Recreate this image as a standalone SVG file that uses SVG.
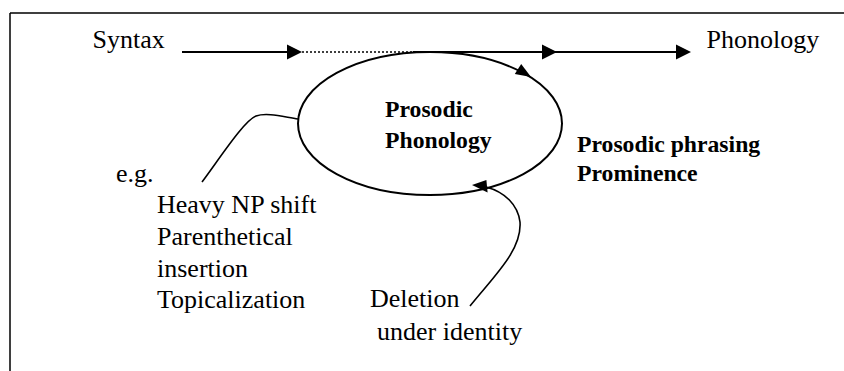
<svg xmlns="http://www.w3.org/2000/svg" width="844" height="371" viewBox="0 0 844 371">
<style>
text{font-family:'Liberation Serif','Times New Roman',serif;fill:#000}
.t{font-size:26px}
.b{font-size:23.7px;font-weight:bold}
.ln{fill:none;stroke:#000;stroke-width:2}
.cv{fill:none;stroke:#000;stroke-width:1.6}
.ah{fill:#000;stroke:none}
</style>
<rect width="844" height="371" fill="#fff"/>
<g id="frame">
<path d="M10 13 H844 M10 13 V371" fill="none" stroke="#000" stroke-width="1.5"/>
</g>
<g id="syntax"><text class="t" x="92.5" y="48">Syntax</text></g>
<g id="phonology"><text class="t" x="706.5" y="48">Phonology</text></g>
<g id="prosodic-phonology">
<ellipse cx="430" cy="123.5" rx="132" ry="71.5" class="ln" stroke-width="1.8"/>
<text class="b" x="385" y="117">Prosodic</text>
<text class="b" x="385" y="148">Phonology</text>
</g>
<g id="phrasing">
<text class="b" x="577" y="152">Prosodic phrasing</text>
<text class="b" x="577" y="181">Prominence</text>
</g>
<g id="examples">
<text class="t" x="116" y="182">e.g.</text>
<text class="t" x="157" y="213">Heavy NP shift</text>
<text class="t" x="157" y="245">Parenthetical</text>
<text class="t" x="157" y="277">insertion</text>
<text class="t" x="157" y="308">Topicalization</text>
</g>
<g id="deletion">
<text class="t" x="370" y="307">Deletion</text>
<text class="t" x="377" y="340">under identity</text>
</g>
<g id="connectors">
<path class="ln" d="M182 52 H290"/>
<polygon class="ah" points="302,52 287,44.5 287,59.5"/>
<path d="M302 52 H413" fill="none" stroke="#000" stroke-width="1.5" stroke-dasharray="2 2"/>
<path class="ln" d="M413 52 H678"/>
<polygon class="ah" points="557,52 542,44.5 542,59.5"/>
<polygon class="ah" points="691,52 676,44.5 676,59.5"/>
<polygon class="ah" points="531,77 514.8,74.1 521.2,63.9"/>
<path class="cv" d="M298 119 C284 117, 267 112, 256 116 C244 121, 222 155, 202 182"/>
<path class="cv" d="M470 306 C495 275, 522 250, 520 222 C518 205, 505 192, 486 187"/>
<polygon class="ah" points="472,185 486.4,180 487.6,192.5"/>
</g>
</svg>
